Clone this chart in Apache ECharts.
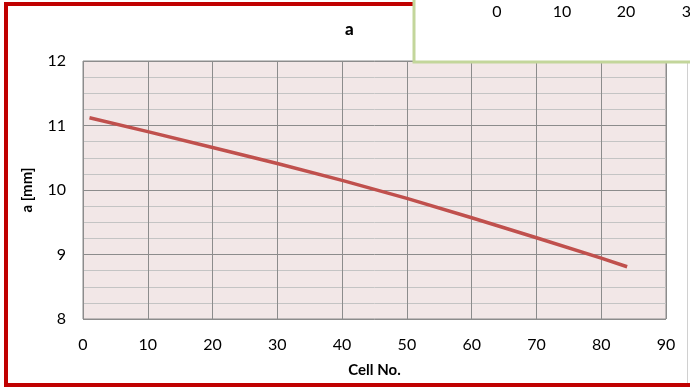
<!DOCTYPE html>
<html>
<head>
<meta charset="utf-8">
<script src="https://cdn.jsdelivr.net/npm/echarts@6/dist/echarts.min.js"></script>
<style>
html,body{margin:0;padding:0;background:#fff;}
#c{width:690px;height:390px;}
</style>
</head>
<body>
<div id="c"></div>
<script>
// Data
const cellNo = [1, 10, 20, 30, 40, 50, 60, 70, 80, 84];
const aValues = [11.12, 10.905, 10.66, 10.41, 10.15, 9.87, 9.57, 9.26, 8.945, 8.81];
const xTicks = [0, 90, 10];   // min, max, interval
const yTicks = [8, 12, 1];
const insetTickLabels = ['0', '10', '20', '30'];

const FONT = 'Lato, "Open Sans", sans-serif';
const chart = echarts.init(document.getElementById('c'), null, {renderer: 'canvas'});

const insetX = [497, 562, 626, 691];

chart.setOption({
  animation: false,
  backgroundColor: '#ffffff',
  title: {
    text: 'a', left: 340, top: 16,
    textStyle: {fontFamily: FONT, fontSize: 17, fontWeight: 900, color: '#000'}
  },
  grid: {
    left: 83, right: 24, top: 61, bottom: 71,
    show: true, backgroundColor: '#f2e7e7', borderColor: '#8c8c8c', borderWidth: 1
  },
  xAxis: {
    type: 'value', min: xTicks[0], max: xTicks[1], interval: xTicks[2],
    name: 'Cell No.', nameLocation: 'middle', nameGap: 44,
    nameTextStyle: {fontFamily: FONT, fontSize: 15, fontWeight: 'bold', color: '#000'},
    axisLine: {show: false}, axisTick: {show: false},
    axisLabel: {fontFamily: FONT, fontSize: 16, color: '#000', margin: 18},
    splitLine: {show: true, lineStyle: {color: '#8c8c8c', width: 1}}
  },
  yAxis: {
    type: 'value', min: yTicks[0], max: yTicks[1], interval: yTicks[2],
    name: 'a [mm]', nameLocation: 'middle', nameGap: 48, nameRotate: 90,
    nameTextStyle: {fontFamily: FONT, fontSize: 15, fontWeight: 'bold', color: '#000'},
    axisLine: {show: false}, axisTick: {show: false},
    axisLabel: {fontFamily: FONT, fontSize: 16, color: '#000', margin: 17},
    splitLine: {show: true, lineStyle: {color: '#8c8c8c', width: 1}},
    minorTick: {show: false, splitNumber: 4},
    minorSplitLine: {show: true, lineStyle: {color: '#c4c4c4', width: 1}}
  },
  series: [{
    type: 'line', smooth: false, showSymbol: false,
    data: cellNo.map((c, i) => [c, aValues[i]]),
    lineStyle: {color: '#c0504d', width: 3.5, cap: 'butt', join: 'round'},
    itemStyle: {color: '#c0504d'}
  }],
  graphic: [
    {type: 'rect', z: 100, silent: true,
     shape: {x: 6, y: 4, width: 700, height: 381},
     style: {fill: null, stroke: '#c00000', lineWidth: 4}},
    {type: 'line', z: 99, silent: true,
     shape: {x1: 687.5, y1: 60, x2: 687.5, y2: 384},
     style: {stroke: '#d0d0d0', lineWidth: 1}},
    {type: 'rect', z: 110, silent: true,
     shape: {x: 414, y: -10, width: 300, height: 72},
     style: {fill: '#ffffff', stroke: '#c3d69b', lineWidth: 3}},
    ...insetTickLabels.map((t, i) => ({
      type: 'text', z: 111, silent: true,
      style: {x: insetX[i], y: 12, text: t, align: 'center', verticalAlign: 'middle',
              font: '16px ' + FONT, fill: '#000'}
    }))
  ]
});
</script>
</body>
</html>
